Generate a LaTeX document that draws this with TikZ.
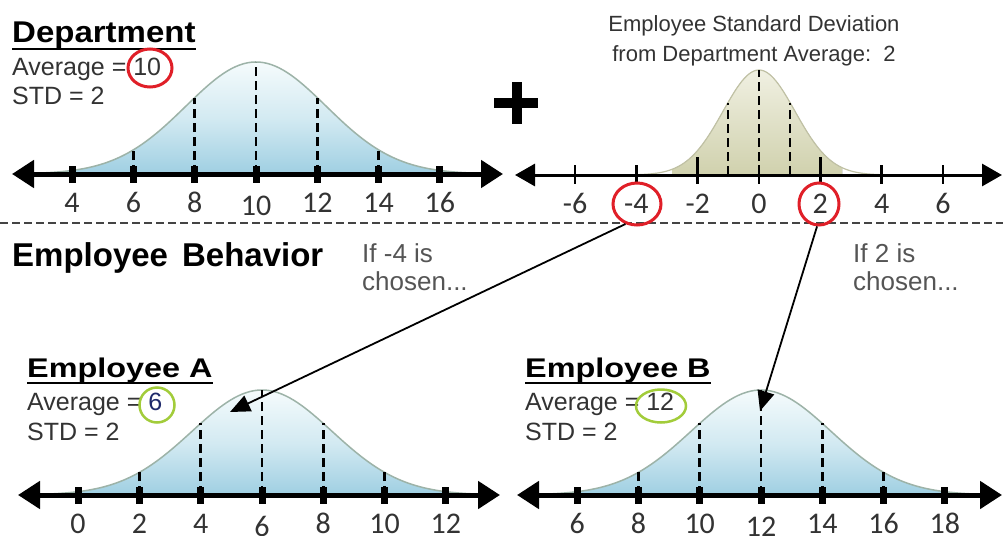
\documentclass[tikz,border=0pt]{standalone}
\usepackage{fontspec}
\usepackage{graphicx}
\setmainfont{Liberation Sans}
\newfontfamily\numfont{Carlito}
\usetikzlibrary{arrows.meta,shapes.geometric}
\definecolor{textgrey}{HTML}{333333}
\definecolor{curvecol}{HTML}{9DB3A8}
\definecolor{ringred}{HTML}{E01F28}
\definecolor{ringgreen}{HTML}{A2CC3A}
\definecolor{sepcol}{HTML}{444444}
\definecolor{bluetop}{HTML}{F5FBFC}
\definecolor{bluemid}{HTML}{D3EAF2}
\definecolor{bluebot}{HTML}{9FCFE2}
\definecolor{khakitop}{HTML}{F0F0E2}
\definecolor{khakibot}{HTML}{D0D1AD}
\definecolor{navy}{HTML}{1F2A6B}
\definecolor{softgrey}{HTML}{555555}
\begin{document}
\begin{tikzpicture}[x=1pt,y=-1pt,
  txt/.style={inner sep=0pt, font=\fontsize{25}{30}\selectfont, text=textgrey},
  hdr/.style={inner sep=0pt, font=\bfseries\fontsize{27}{32}\selectfont},
  num/.style={inner sep=0pt, anchor=base, font=\numfont\fontsize{30}{36}\selectfont, text=textgrey},
  nline/.style={line width=5pt, {Triangle[length=22pt,width=27pt]}-{Triangle[length=22pt,width=27pt]}},
  nlinethin/.style={line width=3pt, {Triangle[length=20pt,width=22pt]}-{Triangle[length=20pt,width=22pt]}},
  vdash/.style={line width=2.5pt, dash pattern=on 9pt off 5pt},
  bell/.style={draw=curvecol, line width=1.5pt},
  ring/.style={ellipse, draw=ringred, line width=3pt, inner sep=0pt},
  gring/.style={ellipse, draw=ringgreen, line width=2.5pt, inner sep=0pt},
  sepline/.style={line width=2pt, draw=sepcol, dash pattern=on 8pt off 4pt},
  pointer/.style={line width=1.8pt, -{Triangle[length=20pt,width=17pt]}},
  bluefill/.style={top color=bluetop, bottom color=bluebot, middle color=bluemid},
]
\fill[white] (0,0) rectangle (1003,535);
\useasboundingbox (0,0) rectangle (1003,535);

% ---------- blue bell panels ----------
\foreach \cx/\by/\lo/\hi/\h/\base/\ll/\rr [count=\p] in
  {256/174/20/495/112/10/12/503, 262/495/25/495/105/6/18/500, 761/495/525/995/105/12/517/1002} {
  \fill[bluefill] plot[domain=\lo:\hi, samples=120] (\x,{\by-\h*exp(-0.5*((\x-\cx)/70)^2)}) -- (\hi,\by) -- (\lo,\by) -- cycle;
  \draw[bell] plot[domain=\lo:\hi, samples=120] (\x,{\by-\h*exp(-0.5*((\x-\cx)/70)^2)});
  \foreach \k in {-2,...,2} {
    \pgfmathsetmacro\yy{\by-\h*exp(-0.5*(61.3*\k/70)^2)}
    \draw[vdash] ({\cx+61.3*\k},\by) -- ({\cx+61.3*\k},\yy);
  }
  \draw[nline] (\ll,\by) -- (\rr,\by);
  \foreach \k [count=\i] in {-3,...,3} {
    \fill ({\cx+61.3*\k-3.5},{\by-8}) rectangle ({\cx+61.3*\k+3.5},{\by+9});
    \pgfmathtruncatemacro\lab{\base+2*\k}
    \pgfmathsetmacro\dy{ifthenelse(\k==0,3,0)}
    \node[num] (lab\p-\i) at ({\cx+61.3*\k},{\by+38+\dy}) {\lab};
  }
}

% ---------- small khaki bell (deviation) ----------
\fill[top color=khakitop, bottom color=khakibot] plot[domain=672:842, samples=80] (\x,{175-105*exp(-0.5*((\x-759)/36)^2)}) -- (842,175) -- (672,175) -- cycle;
\draw[draw=khakibot!80!gray, line width=1.2pt] plot[domain=640:880, samples=100] (\x,{175-105*exp(-0.5*((\x-759)/36)^2)});
\foreach \k in {-1,0,1} {
  \pgfmathsetmacro\yy{175-105*exp(-0.5*(31*\k/36)^2)}
  \draw[vdash, line width=2.2pt] ({759+31*\k},175) -- ({759+31*\k},\yy);
}
\draw[nlinethin] (515,175) -- (1002,175);
\foreach \k [count=\i] in {-3,...,3} {
  \pgfmathsetmacro\tt{ifthenelse(\k==-1 || \k==1,157,165)}
  \draw[line width=2.5pt] ({759+61.3*\k},\tt) -- ({759+61.3*\k},184);
  \pgfmathtruncatemacro\lab{2*\k}
  \node[num] (labR-\i) at ({759+61.3*\k},213) {\lab};
}

% ---------- plus sign ----------
\fill (494,98) rectangle (538,108);
\fill (512,82) rectangle (522,124);

% ---------- separator ----------
\draw[sepline] (0,223) -- (1003,223);

% ---------- texts ----------
\node[hdr, anchor=base west, font=\bfseries\fontsize{30}{36}\selectfont] (dept) at (12,42) {\scalebox{1.1}[1]{Department}};
\draw[line width=2.5pt] ([yshift=-7pt]dept.base west) -- ([yshift=-7pt]dept.base east);
\node[txt, anchor=base west] (avgD) at (12,75) {Average = 10};
\node[txt, anchor=base west] (stdD) at (12,104) {STD = 2};

\node[inner sep=0pt, anchor=base, align=center, text=textgrey, font=\fontsize{22}{29}\selectfont] (devtitle) at (754,61) {Employee Standard Deviation\\from Department Average:\ \ 2};

\node[inner sep=0pt, anchor=base west, font=\bfseries\fontsize{33}{40}\selectfont] (behav) at (12,266) {Employee\hspace{14pt}Behavior};
\node[inner sep=0pt, anchor=base west, align=left, text=softgrey, font=\fontsize{26}{28}\selectfont] (ifm4) at (362,290) {If -4 is\\chosen...};
\node[inner sep=0pt, anchor=base west, align=left, text=softgrey, font=\fontsize{26}{28}\selectfont] (if2) at (853,290) {If 2 is\\chosen...};

\node[hdr, anchor=base west] (empA) at (27,377) {\scalebox{1.2}[1]{Employee A}};
\draw[line width=2.5pt] ([yshift=-6pt]empA.base west) -- ([yshift=-6pt]empA.base east);
\node[txt, anchor=base west] (avgA) at (27,410) {Average = \textcolor{navy}{6}};
\node[txt, anchor=base west] (stdA) at (27,440) {STD = 2};

\node[hdr, anchor=base west] (empB) at (525,377) {\scalebox{1.2}[1]{Employee B}};
\draw[line width=2.5pt] ([yshift=-6pt]empB.base west) -- ([yshift=-6pt]empB.base east);
\node[txt, anchor=base west] (avgB) at (525,410) {Average = 12};
\node[txt, anchor=base west] (stdB) at (525,440) {STD = 2};

% ---------- rings ----------
\node[ring, minimum width=44pt, minimum height=38pt] (ring10) at (150,68) {};
\node[ring, minimum width=48pt, minimum height=42pt] (ringm4) at (637,204) {};
\node[ring, minimum width=40pt, minimum height=42pt] (ring2) at (819,204) {};
\node[gring, minimum width=35pt, minimum height=35pt] (ring6) at (157,405) {};
\node[gring, minimum width=50pt, minimum height=33pt] (ring12) at (661,406) {};

% ---------- arrows ----------
\coordinate (tipA) at (230,412);
\coordinate (tipB) at (760,411);
\draw[pointer] (ringm4.240) -- (tipA);
\draw[pointer] (ring2.265) -- (tipB);
\end{tikzpicture}
\end{document}
